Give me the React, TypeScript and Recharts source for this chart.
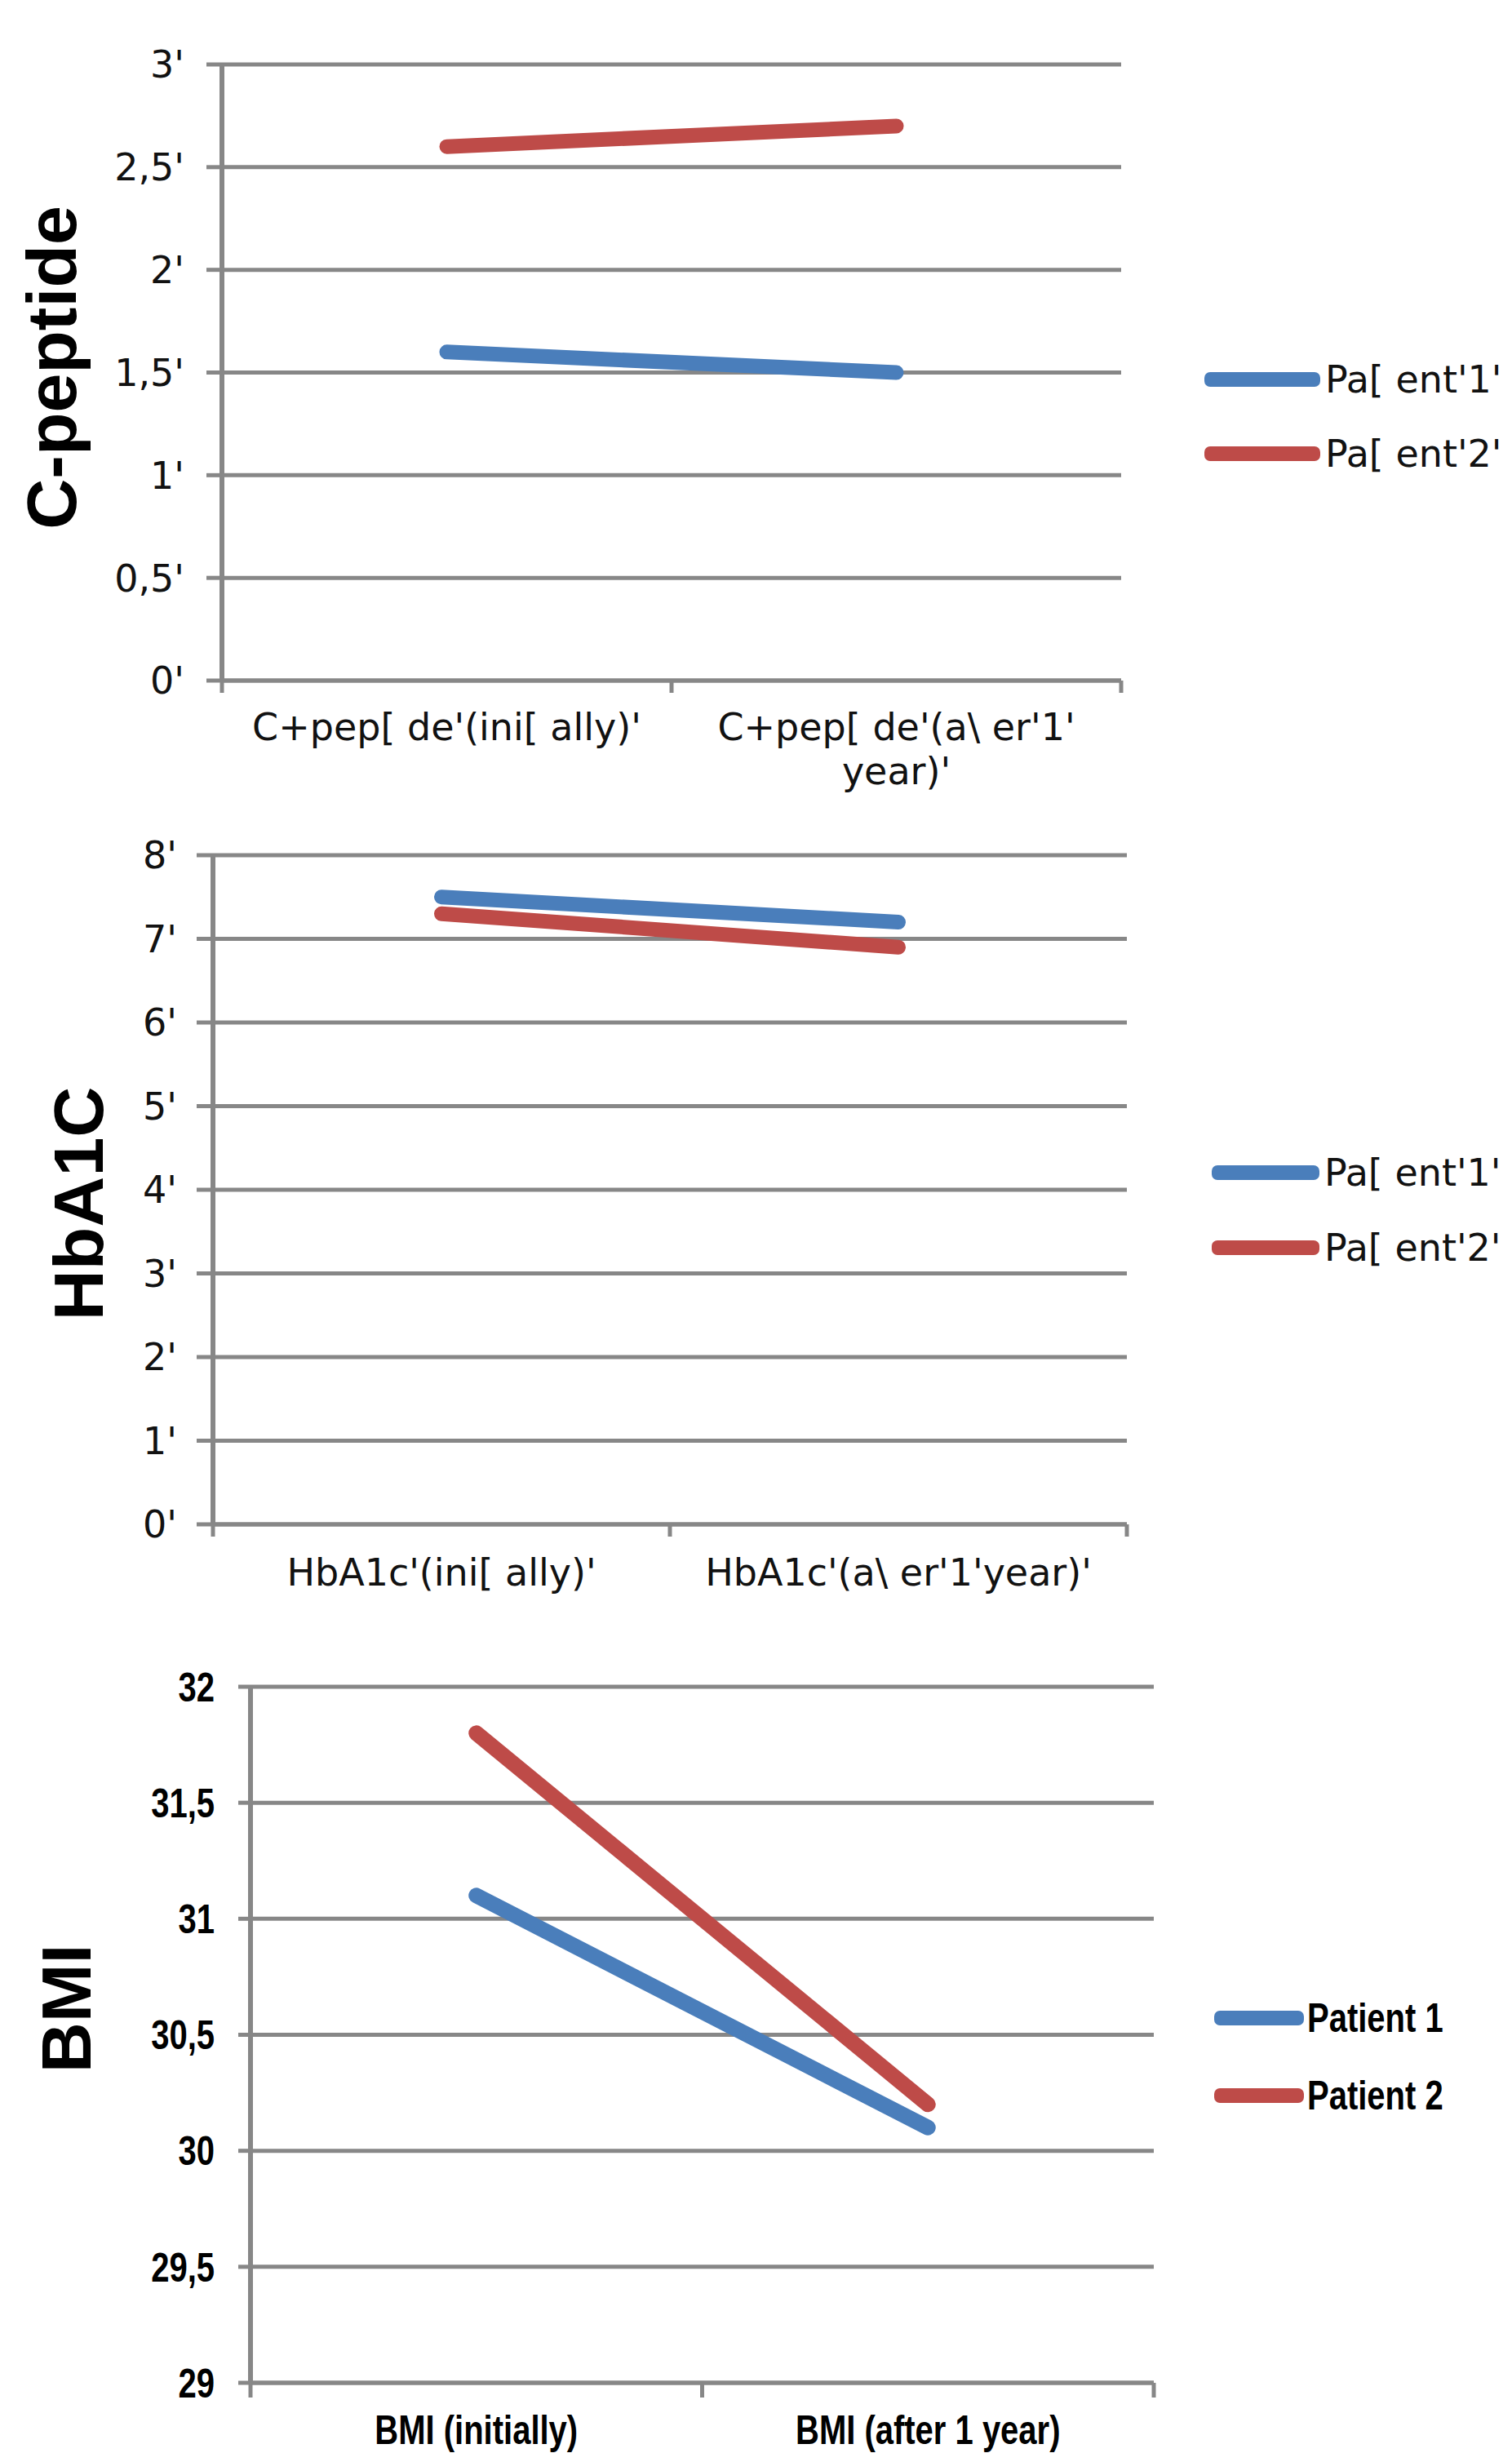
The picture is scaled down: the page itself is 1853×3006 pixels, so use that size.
import React from 'react';
import { LineChart, Line, XAxis, YAxis, CartesianGrid, Legend } from 'recharts';

// Excel-ish palette
const GRID = '#878787';
const BLUE = '#4A7EBB';
const RED = '#BE4B48';

// --- C-peptide ---
const cpepCategories = [["C+pep[ de'(ini[ ally)'"], ["C+pep[ de'(a\\ er'1'", "year)'"]];
const cpepPatient1 = [1.6, 1.5];
const cpepPatient2 = [2.6, 2.7];
const cpepTicks = [0, 0.5, 1, 1.5, 2, 2.5, 3];
const cpepTickLabels = ["0'", "0,5'", "1'", "1,5'", "2'", "2,5'", "3'"];
const cpepNames = ["Pa[ ent'1'", "Pa[ ent'2'"];

// --- HbA1c ---
const hbaCategories = [["HbA1c'(ini[ ally)'"], ["HbA1c'(a\\ er'1'year)'"]];
const hbaPatient1 = [7.5, 7.2];
const hbaPatient2 = [7.3, 6.9];
const hbaTicks = [0, 1, 2, 3, 4, 5, 6, 7, 8];
const hbaTickLabels = ["0'", "1'", "2'", "3'", "4'", "5'", "6'", "7'", "8'"];
const hbaNames = ["Pa[ ent'1'", "Pa[ ent'2'"];

// --- BMI ---
const bmiCategories = [['BMI (initially)'], ['BMI (after 1 year)']];
const bmiPatient1 = [31.1, 30.1];
const bmiPatient2 = [31.8, 30.2];
const bmiTicks = [29, 29.5, 30, 30.5, 31, 31.5, 32];
const bmiTickLabels = ['29', '29,5', '30', '30,5', '31', '31,5', '32'];
const bmiNames = ['Patient 1', 'Patient 2'];

// text style + horizontal squeeze (no narrow font installed, so the BMI panel squeezes a bold sans)
const plainFont = { css: { fontFamily: '"DejaVu Sans", Verdana, sans-serif', fontSize: 46 }, fill: '#111', sx: 1 };
const narrowFont = {
  css: { fontFamily: '"Liberation Sans", Arial, sans-serif', fontWeight: 700, fontSize: 50 },
  fill: '#000',
  sx: 0.8,
};

const buildData = (cats: string[][], p1: number[], p2: number[]) =>
  cats.map((_, i) => ({ x: i + 0.5, p1: p1[i], p2: p2[i] }));

// x ticks: integers are the category boundaries (tick marks only),
// halves are the category centres (labels only)
const CatTick = (props: any) => {
  const { x, y, payload, cats, tickLen, font, firstDy, lineGap } = props;
  const v = payload.value;
  if (Number.isInteger(v)) {
    return <line x1={x} x2={x} y1={y - tickLen} y2={y} stroke={GRID} strokeWidth={5} />;
  }
  const lines: string[] = cats[Math.floor(v)] || [];
  return (
    <g transform={`translate(${x},${y}) scale(${font.sx},1)`}>
      <text x={0} y={0} textAnchor="middle" style={font.css} fill={font.fill}>
        {lines.map((l, i) => (
          <tspan key={i} x={0} dy={i === 0 ? firstDy : lineGap}>{l}</tspan>
        ))}
      </text>
    </g>
  );
};

const ValueTick = (props: any) => {
  const { x, y, payload, ticks, labels, font } = props;
  const label = labels[ticks.indexOf(payload.value)];
  return (
    <g transform={`translate(${x},${y}) scale(${font.sx},1)`}>
      <text x={0} y={0} dy="0.355em" textAnchor="end" style={font.css} fill={font.fill}>
        {label}
      </text>
    </g>
  );
};

const AxisTitle = (props: any) => {
  const { viewBox, value, baseX, shiftY } = props;
  const cy = viewBox.y + viewBox.height / 2 + shiftY;
  return (
    <text
      x={baseX}
      y={cy}
      transform={`rotate(-90, ${baseX}, ${cy})`}
      textAnchor="middle"
      style={{ fontFamily: '"Liberation Sans", Arial, sans-serif', fontWeight: 700, fontSize: 86 }}
      fill="#000"
    >
      {value}
    </text>
  );
};

const LegendBox = (props: any) => {
  const { payload, font, rowH, lineW, gap } = props;
  return (
    <div>
      {(payload || []).map((e: any) => (
        <div key={e.value} style={{ display: 'flex', alignItems: 'center', height: rowH }}>
          <div style={{ width: lineW, height: 18, borderRadius: 7, background: e.color, flex: 'none' }} />
          <span
            style={{
              ...font.css,
              color: font.fill,
              marginLeft: gap,
              whiteSpace: 'nowrap',
              lineHeight: 1,
              display: 'inline-block',
              transform: `scaleX(${font.sx})`,
              transformOrigin: 'left center',
            }}
          >
            {e.value}
          </span>
        </div>
      ))}
    </div>
  );
};

interface PanelProps {
  top: number;
  height: number;
  plotLeft: number;
  plotRight: number;
  plotTop: number;
  plotBottom: number;
  cats: string[][];
  p1: number[];
  p2: number[];
  names: string[];
  ticks: number[];
  tickLabels: string[];
  title: string;
  titleX: number;
  titleShift: number;
  yTickLen: number;
  yTickGap: number;
  xTickLen: number;
  labelDy: number;
  labelGap: number;
  font: any;
  lineWidth: number;
  legendLeft: number;
  legendTop: number;
  legendRow: number;
  legendLine: number;
  legendGap: number;
}

const Panel = (p: PanelProps) => {
  const data = buildData(p.cats, p.p1, p.p2);
  return (
    <div style={{ position: 'absolute', left: 0, top: p.top }}>
      <LineChart
        width={1853}
        height={p.height}
        data={data}
        margin={{ top: p.plotTop, right: 1853 - p.plotRight, bottom: 0, left: 0 }}
      >
        <CartesianGrid vertical={false} stroke={GRID} strokeWidth={5} strokeDasharray="" />
        <XAxis
          dataKey="x"
          type="number"
          domain={[0, 2]}
          ticks={[0, 0.5, 1, 1.5, 2]}
          interval={0}
          height={p.height - p.plotBottom}
          axisLine={{ stroke: GRID, strokeWidth: 5 }}
          tickLine={false}
          tickSize={p.xTickLen}
          tickMargin={0}
          tick={(t: any) => (
            <CatTick
              {...t}
              cats={p.cats}
              tickLen={p.xTickLen}
              font={p.font}
              firstDy={p.labelDy}
              lineGap={p.labelGap}
            />
          )}
        />
        <YAxis
          type="number"
          domain={[p.ticks[0], p.ticks[p.ticks.length - 1]]}
          ticks={p.ticks}
          interval={0}
          width={p.plotLeft}
          axisLine={{ stroke: GRID, strokeWidth: 6 }}
          tickLine={{ stroke: GRID, strokeWidth: 5 }}
          tickSize={p.yTickLen}
          tickMargin={p.yTickGap}
          tick={(t: any) => <ValueTick {...t} ticks={p.ticks} labels={p.tickLabels} font={p.font} />}
          label={{
            value: p.title,
            content: (lp: any) => <AxisTitle {...lp} value={p.title} baseX={p.titleX} shiftY={p.titleShift} />,
          }}
        />
        <Legend
          layout="vertical"
          align="center"
          verticalAlign="middle"
          wrapperStyle={{ left: p.legendLeft, top: p.legendTop, width: 500 }}
          content={(lp: any) => (
            <LegendBox {...lp} font={p.font} rowH={p.legendRow} lineW={p.legendLine} gap={p.legendGap} />
          )}
        />
        <Line
          type="linear"
          dataKey="p1"
          name={p.names[0]}
          stroke={BLUE}
          strokeWidth={p.lineWidth}
          strokeLinecap="round"
          dot={false}
          activeDot={false}
          isAnimationActive={false}
        />
        <Line
          type="linear"
          dataKey="p2"
          name={p.names[1]}
          stroke={RED}
          strokeWidth={p.lineWidth}
          strokeLinecap="round"
          dot={false}
          activeDot={false}
          isAnimationActive={false}
        />
      </LineChart>
    </div>
  );
};

export default function App() {
  return (
    <div
      style={{
        position: 'absolute',
        left: 0,
        top: 0,
        width: 1853,
        height: 3006,
        background: '#fff',
        overflow: 'hidden',
      }}
    >
      <Panel
        top={0}
        height={1000}
        plotLeft={272}
        plotRight={1374}
        plotTop={79}
        plotBottom={834}
        cats={cpepCategories}
        p1={cpepPatient1}
        p2={cpepPatient2}
        names={cpepNames}
        ticks={cpepTicks}
        tickLabels={cpepTickLabels}
        title="C-peptide"
        titleX={93}
        titleShift={-6}
        yTickLen={19}
        yTickGap={27}
        xTickLen={15}
        labelDy={58}
        labelGap={54}
        font={plainFont}
        lineWidth={18}
        legendLeft={1476}
        legendTop={419}
        legendRow={91}
        legendLine={142}
        legendGap={6}
      />
      <Panel
        top={1000}
        height={990}
        plotLeft={261}
        plotRight={1381}
        plotTop={48}
        plotBottom={868}
        cats={hbaCategories}
        p1={hbaPatient1}
        p2={hbaPatient2}
        names={hbaNames}
        ticks={hbaTicks}
        tickLabels={hbaTickLabels}
        title="HbA1C"
        titleX={126}
        titleShift={17}
        yTickLen={20}
        yTickGap={24}
        xTickLen={15}
        labelDy={60}
        labelGap={54}
        font={plainFont}
        lineWidth={18}
        legendLeft={1485}
        legendTop={391}
        legendRow={92}
        legendLine={132}
        legendGap={6}
      />
      <Panel
        top={1990}
        height={1016}
        plotLeft={307}
        plotRight={1414}
        plotTop={77}
        plotBottom={930}
        cats={bmiCategories}
        p1={bmiPatient1}
        p2={bmiPatient2}
        names={bmiNames}
        ticks={bmiTicks}
        tickLabels={bmiTickLabels}
        title="BMI"
        titleX={111}
        titleShift={-32}
        yTickLen={15}
        yTickGap={29}
        xTickLen={18}
        labelDy={57}
        labelGap={54}
        font={narrowFont}
        lineWidth={19}
        legendLeft={1488}
        legendTop={435}
        legendRow={95}
        legendLine={110}
        legendGap={4}
      />
    </div>
  );
}
